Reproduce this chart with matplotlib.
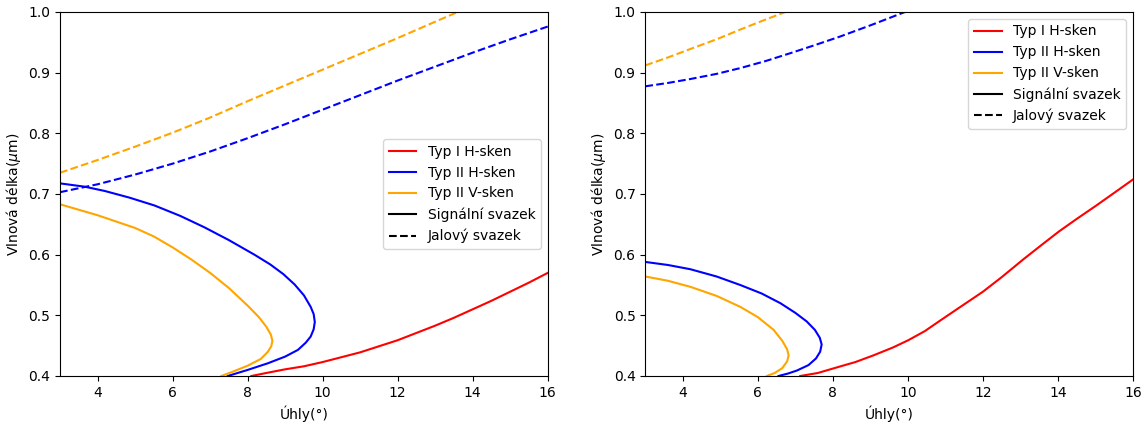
import matplotlib
matplotlib.use("Agg")
import matplotlib.pyplot as plt
from matplotlib.lines import Line2D

# levy graf - signalni svazky (uhel, vlnova delka)
L_typ1_h_sig_uhel = [8.10, 8.5, 9.0, 9.5, 10.0, 10.5, 11.0, 11.5, 12.0, 12.5, 13.0, 13.5, 14.0, 14.5, 15.0, 15.5, 16.0]
L_typ1_h_sig_wl = [0.400, 0.405, 0.411, 0.416, 0.423, 0.431, 0.439, 0.449, 0.459, 0.471, 0.483, 0.496, 0.510, 0.524, 0.539, 0.554, 0.570]

L_typ2_h_sig_uhel = [3.0, 3.66, 4.19, 4.85, 5.52, 6.2, 6.85, 7.5, 8.18, 8.6, 8.95, 9.25, 9.5, 9.68, 9.76, 9.79,
                     9.76, 9.68, 9.55, 9.34, 9.0, 8.54, 8.0, 7.47]
L_typ2_h_sig_wl = [0.7175, 0.712, 0.705, 0.694, 0.681, 0.664, 0.645, 0.624, 0.600, 0.584, 0.568, 0.551, 0.533, 0.514, 0.502, 0.489,
                   0.477, 0.465, 0.455, 0.443, 0.432, 0.421, 0.410, 0.400]

L_typ2_v_sig_uhel = [3.0, 4.0, 5.0, 5.5, 6.0, 6.5, 7.0, 7.5, 8.0, 8.3, 8.5, 8.62, 8.66,
                     8.63, 8.54, 8.35, 8.0, 7.6, 7.3]
L_typ2_v_sig_wl = [0.683, 0.665, 0.644, 0.630, 0.612, 0.592, 0.570, 0.545, 0.516, 0.497, 0.481, 0.468, 0.458,
                   0.449, 0.440, 0.428, 0.417, 0.407, 0.400]

# levy graf - jalove svazky
L_typ2_h_jal_uhel = [3, 4, 5, 6, 7, 8, 9, 10, 11, 12, 13, 14, 15, 16]
L_typ2_h_jal_wl = [0.703, 0.716, 0.732, 0.750, 0.770, 0.792, 0.815, 0.839, 0.863, 0.887, 0.910, 0.933, 0.955, 0.976]

L_typ2_v_jal_uhel = [3, 4, 5, 6, 7, 8, 9, 10, 11, 12, 13, 13.6, 14.0]
L_typ2_v_jal_wl = [0.735, 0.756, 0.778, 0.801, 0.826, 0.853, 0.879, 0.905, 0.931, 0.957, 0.984, 1.0, 1.011]

# pravy graf - signalni svazky
R_typ1_h_sig_uhel = [7.13, 7.6, 8.19, 8.6, 9.08, 9.6, 10.01, 10.45, 10.85, 11.4, 12.0, 12.5, 13.07, 13.5, 14.02, 14.5, 15.02, 15.5, 16.0]
R_typ1_h_sig_wl = [0.400, 0.405, 0.4157, 0.423, 0.434, 0.447, 0.459, 0.474, 0.491, 0.514, 0.539, 0.563, 0.592, 0.613, 0.638, 0.659, 0.681, 0.702, 0.724]

R_typ2_h_sig_uhel = [3.0, 3.6, 4.2, 4.9, 5.53, 6.1, 6.6, 7.0, 7.3, 7.52, 7.65, 7.70,
                     7.66, 7.55, 7.35, 7.04, 6.8, 6.55]
R_typ2_h_sig_wl = [0.588, 0.583, 0.576, 0.564, 0.550, 0.536, 0.520, 0.504, 0.490, 0.476, 0.463, 0.452,
                   0.440, 0.429, 0.418, 0.409, 0.404, 0.400]

R_typ2_v_sig_uhel = [3.0, 3.6, 4.2, 4.9, 5.53, 6.0, 6.42, 6.65, 6.78, 6.82,
                     6.78, 6.65, 6.45, 6.24]
R_typ2_v_sig_wl = [0.564, 0.557, 0.547, 0.532, 0.514, 0.497, 0.476, 0.458, 0.444, 0.434,
                   0.424, 0.413, 0.405, 0.400]

# pravy graf - jalove svazky
R_typ2_h_jal_uhel = [3.0, 3.6, 4.2, 4.9, 5.53, 6.2, 6.86, 7.5, 8.19, 9.0, 9.92, 10.2]
R_typ2_h_jal_wl = [0.8775, 0.883, 0.8895, 0.898, 0.9075, 0.919, 0.932, 0.945, 0.9595, 0.978, 1.0, 1.007]

R_typ2_v_jal_uhel = [3.0, 3.6, 4.2, 4.9, 5.53, 6.1, 6.73, 7.0]
R_typ2_v_jal_wl = [0.912, 0.925, 0.939, 0.955, 0.971, 0.985, 1.0, 1.007]

plt.rcParams['font.family'] = ['DejaVu Sans']

fig, (ax1, ax2) = plt.subplots(1, 2, figsize=(11.46, 4.25), dpi=100)
fig.subplots_adjust(left=0.0524, right=0.9887, bottom=0.1153, top=0.9718, wspace=0.2)

legend_handles = [
    Line2D([], [], color='red', label='Typ I H-sken'),
    Line2D([], [], color='blue', label='Typ II H-sken'),
    Line2D([], [], color='orange', label='Typ II V-sken'),
    Line2D([], [], color='black', label='Signální svazek'),
    Line2D([], [], color='black', linestyle='--', label='Jalový svazek'),
]

# levy graf
ax1.plot(L_typ1_h_sig_uhel, L_typ1_h_sig_wl, color='red')
ax1.plot(L_typ2_h_sig_uhel, L_typ2_h_sig_wl, color='blue')
ax1.plot(L_typ2_v_sig_uhel, L_typ2_v_sig_wl, color='orange')
ax1.plot(L_typ2_h_jal_uhel, L_typ2_h_jal_wl, color='blue', linestyle='--')
ax1.plot(L_typ2_v_jal_uhel, L_typ2_v_jal_wl, color='orange', linestyle='--')
ax1.legend(handles=legend_handles, loc='center right')

# pravy graf
ax2.plot(R_typ1_h_sig_uhel, R_typ1_h_sig_wl, color='red')
ax2.plot(R_typ2_h_sig_uhel, R_typ2_h_sig_wl, color='blue')
ax2.plot(R_typ2_v_sig_uhel, R_typ2_v_sig_wl, color='orange')
ax2.plot(R_typ2_h_jal_uhel, R_typ2_h_jal_wl, color='blue', linestyle='--')
ax2.plot(R_typ2_v_jal_uhel, R_typ2_v_jal_wl, color='orange', linestyle='--')
ax2.legend(handles=legend_handles, loc='upper right')

for ax in (ax1, ax2):
    ax.set_xlim(3, 16)
    ax.set_ylim(0.4, 1.0)
    ax.set_xlabel("Úhly(°)")
    ax.set_ylabel(r"Vlnová délka($\mu$m)")

plt.savefig("out.png")
